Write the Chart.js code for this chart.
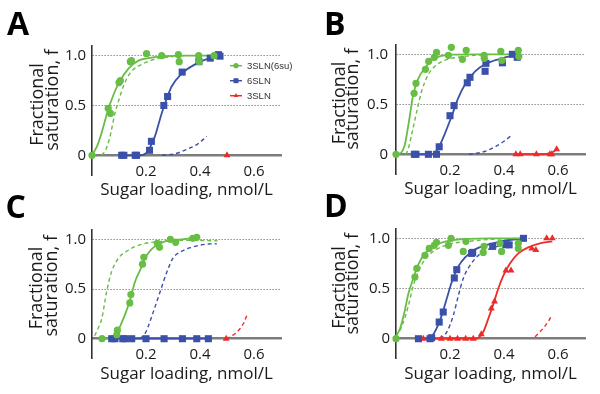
<!DOCTYPE html>
<html>
<head>
<meta charset="utf-8">
<script src="https://cdn.jsdelivr.net/npm/chart.js@4.4.1/dist/chart.umd.min.js"></script>
<style>
  html, body { margin: 0; padding: 0; background: #fff; }
  #wrap { position: relative; width: 600px; height: 394px; overflow: hidden; }
  canvas { position: absolute; }
</style>
</head>
<body>
<div id="wrap">
  <canvas id="chartA" width="300" height="205" style="left:0;top:0"></canvas>
  <canvas id="chartB" width="300" height="205" style="left:300px;top:0"></canvas>
  <canvas id="chartC" width="300" height="210" style="left:0;top:184px"></canvas>
  <canvas id="chartD" width="300" height="210" style="left:300px;top:184px"></canvas>
</div>
<script>
// ---- labels / ticks ----
const seriesNames = ['3SLN(6su)', '6SLN', '3SLN'];
const panelLetters = ['A', 'B', 'C', 'D'];
const xTitle = 'Sugar loading, nmol/L';
const yTitleLines = ['Fractional', 'saturation, f'];
const xTicks = [0.2, 0.4, 0.6];
const xTickLabels = ['0.2', '0.4', '0.6'];
const yTicks = [0, 0.5, 1.0];
const yTickLabels = ['0', '0.5', '1.0'];

// ---- panel A: [x, y] ----
const aGreenPts = [[0,0],[0.06,0.47],[0.068,0.42],[0.1,0.73],[0.105,0.75],[0.142,0.94],[0.146,0.95],[0.202,1.02],[0.258,1.0],[0.32,1.01],[0.323,0.94],[0.395,1.0],[0.397,0.94],[0.452,1.0]];
const aGreenFit = [[0,0],[0.02,0.1],[0.036,0.23],[0.06,0.46],[0.08,0.61],[0.1,0.73],[0.135,0.87],[0.172,0.95],[0.22,0.98],[0.28,0.995],[0.35,1.0],[0.455,1.0]];
const aGreenRef = [[0.036,0],[0.05,0.05],[0.065,0.17],[0.085,0.42],[0.1,0.56],[0.116,0.69],[0.135,0.8],[0.153,0.86],[0.19,0.92],[0.24,0.97],[0.3,0.99]];
const aBluePts = [[0.11,0],[0.118,0],[0.16,0],[0.165,0],[0.213,0.05],[0.22,0.14],[0.266,0.5],[0.28,0.59],[0.334,0.835],[0.396,0.94],[0.438,0.975],[0.468,1.01],[0.474,0.995]];
const aBlueFit = [[0.105,0],[0.18,0],[0.2,0.02],[0.215,0.08],[0.233,0.19],[0.258,0.42],[0.277,0.57],[0.295,0.69],[0.332,0.82],[0.38,0.91],[0.43,0.97],[0.474,0.995]];
const aBlueRef = [[0.26,0],[0.3,0.01],[0.33,0.035],[0.36,0.07],[0.39,0.11],[0.425,0.19]];
const aRedPts = [[0.5,0]];

// ---- panel B ----
const bGreenPts = [[0,0],[0.067,0.61],[0.074,0.71],[0.109,0.85],[0.121,0.93],[0.142,0.97],[0.15,1.02],[0.194,0.99],[0.205,1.07],[0.246,0.95],[0.26,1.04],[0.326,0.99],[0.327,0.96],[0.388,1.03],[0.392,0.94],[0.453,1.04],[0.455,0.98]];
const bGreenFit = [[0,0],[0.02,0.02],[0.033,0.1],[0.045,0.28],[0.052,0.4],[0.064,0.6],[0.083,0.76],[0.107,0.86],[0.132,0.94],[0.169,0.985],[0.206,0.997],[0.3,1.0],[0.455,1.0]];
const bGreenRef = [[0.036,0],[0.045,0.05],[0.058,0.2],[0.077,0.43],[0.095,0.63],[0.12,0.8],[0.144,0.88],[0.18,0.94],[0.23,0.97],[0.29,0.99],[0.35,1.0]];
const bBluePts = [[0.068,0],[0.074,0],[0.12,0],[0.15,0],[0.16,0.075],[0.2,0.386],[0.215,0.487],[0.264,0.715],[0.274,0.77],[0.33,0.83],[0.333,0.91],[0.394,0.915],[0.431,1.0],[0.449,0.97]];
const bBlueFit = [[0.068,0],[0.13,0],[0.145,0.02],[0.157,0.063],[0.18,0.2],[0.206,0.38],[0.23,0.56],[0.256,0.7],[0.293,0.83],[0.33,0.9],[0.38,0.95],[0.43,0.985],[0.45,0.99]];
const bBlueRef = [[0.27,0],[0.3,0.01],[0.34,0.04],[0.37,0.08],[0.4,0.13],[0.428,0.19]];
const bRedPts = [[0.444,0],[0.46,0],[0.52,0],[0.57,0],[0.577,0],[0.595,0.05]];
const bRedFit = [[0.444,0],[0.53,0],[0.56,0.005],[0.58,0.02],[0.595,0.05]];

// ---- panel C ----
const cGreenPts = [[0.037,0],[0.092,0.04],[0.094,0.086],[0.14,0.36],[0.144,0.445],[0.187,0.75],[0.192,0.82],[0.242,0.96],[0.25,0.92],[0.29,1.0],[0.31,0.97],[0.373,1.01],[0.388,1.02]];
const cGreenFit = [[0.037,0],[0.09,0],[0.098,0.08],[0.122,0.24],[0.141,0.39],[0.159,0.57],[0.178,0.69],[0.196,0.81],[0.22,0.9],[0.246,0.95],[0.283,0.99],[0.332,1.0],[0.388,1.02]];
const cGreenRef = [[0.01,0.03],[0.022,0.1],[0.036,0.2],[0.054,0.47],[0.072,0.67],[0.098,0.81],[0.134,0.89],[0.184,0.95],[0.258,0.98],[0.344,0.99],[0.465,0.985]];
const cBluePts = [[0.073,0],[0.085,0],[0.114,0],[0.122,0],[0.147,0],[0.2,0],[0.267,0],[0.335,0],[0.388,0],[0.431,0]];
const cBlueFit = [[0.073,0],[0.431,0]];
const cBlueRef = [[0.178,0],[0.19,0.03],[0.2,0.07],[0.227,0.27],[0.252,0.47],[0.277,0.67],[0.3,0.81],[0.332,0.88],[0.37,0.92],[0.418,0.95],[0.462,0.955]];
const cRedPts = [[0.497,0]];
const cRedRef = [[0.497,0],[0.523,0.037],[0.548,0.1],[0.564,0.17],[0.574,0.24]];

// ---- panel D ----
const dGreenPts = [[0,0],[0.07,0.615],[0.077,0.7],[0.107,0.83],[0.123,0.9],[0.142,0.93],[0.15,0.96],[0.194,0.93],[0.204,1.0],[0.249,0.87],[0.259,0.97],[0.323,0.86],[0.326,0.92],[0.385,0.95],[0.391,0.87],[0.453,0.95],[0.453,0.9]];
const dGreenFit = [[0,0.03],[0.015,0.1],[0.03,0.25],[0.046,0.45],[0.064,0.6],[0.083,0.74],[0.107,0.85],[0.144,0.93],[0.194,0.975],[0.268,0.995],[0.35,1.0],[0.47,1.0]];
const dGreenRef = [[0,0.02],[0.021,0.12],[0.046,0.33],[0.064,0.53],[0.083,0.67],[0.107,0.79],[0.144,0.88],[0.194,0.94],[0.268,0.97],[0.354,0.99],[0.465,1.0]];
const dBluePts = [[0.083,0],[0.126,0],[0.132,0.01],[0.16,0.166],[0.175,0.266],[0.216,0.605],[0.225,0.688],[0.28,0.85],[0.284,0.86],[0.358,0.92],[0.407,0.937],[0.419,0.935],[0.472,1.0]];
const dBlueFit = [[0.083,0],[0.12,0],[0.132,0.02],[0.15,0.1],[0.169,0.23],[0.188,0.4],[0.206,0.56],[0.231,0.72],[0.256,0.81],[0.293,0.89],[0.33,0.93],[0.39,0.97],[0.472,1.0]];
const dBlueRef = [[0.163,0],[0.188,0.066],[0.212,0.23],[0.231,0.43],[0.249,0.6],[0.274,0.73],[0.305,0.83],[0.342,0.89],[0.391,0.93],[0.455,0.96]];
const dRedPts = [[0.101,0],[0.132,0],[0.168,0],[0.2,0],[0.228,0],[0.258,0],[0.286,0],[0.316,0.044],[0.353,0.3],[0.365,0.37],[0.407,0.68],[0.426,0.68],[0.503,0.9],[0.518,0.885],[0.558,1.0],[0.579,1.0]];
const dRedFit = [[0.101,0],[0.29,0],[0.305,0.01],[0.323,0.066],[0.342,0.2],[0.36,0.34],[0.379,0.5],[0.398,0.63],[0.422,0.75],[0.453,0.85],[0.49,0.91],[0.54,0.955],[0.579,0.97]];
const dRedRef = [[0.515,0.02],[0.53,0.06],[0.55,0.12],[0.566,0.18],[0.578,0.24]];

// ---- styling ----
const FONT = '"Open Sans", "DejaVu Sans", sans-serif';
const GREEN = '#68bd45';
const BLUE = '#3b50a8';
const RED = '#ee2b2b';
const seriesColors = [GREEN, BLUE, RED];
const seriesShapes = ['circle', 'rect', 'triangle'];
const shapeRadius = { circle: 3.6, rect: 5, triangle: 4 };

const toXY = arr => arr.map(p => ({ x: p[0], y: p[1] }));

function pointSet(arr, k) {
  const shape = seriesShapes[k];
  return {
    data: toXY(arr), showLine: false, clip: false,
    pointStyle: shape, pointRadius: shapeRadius[shape],
    pointBackgroundColor: seriesColors[k], pointBorderColor: seriesColors[k], pointBorderWidth: 0
  };
}
function lineSet(arr, k, dashed) {
  return {
    data: toXY(arr), showLine: true, clip: false, pointRadius: 0,
    borderColor: seriesColors[k], borderWidth: dashed ? 1.4 : 1.8,
    borderDash: dashed ? [4, 3] : [], cubicInterpolationMode: 'monotone'
  };
}

// letters, y title (two lines, centred separately) and the legend of panel A
const panelText = {
  id: 'panelText',
  afterDraw(chart, args, o) {
    const ctx = chart.ctx;
    ctx.save();
    ctx.fillStyle = '#000';
    ctx.font = 'bold 32px ' + FONT;
    ctx.textAlign = 'left';
    ctx.textBaseline = 'alphabetic';
    ctx.fillText(o.letter, o.letterX, o.letterY);
    ctx.fillStyle = '#1a1a1a';
    ctx.font = '18px ' + FONT;
    ctx.textAlign = 'center';
    ctx.textBaseline = 'middle';
    yTitleLines.forEach((line, i) => {
      ctx.save();
      ctx.translate(o.titleX[i], o.titleY[i]);
      ctx.rotate(-Math.PI / 2);
      ctx.fillText(line, 0, 0);
      ctx.restore();
    });
    if (o.legend) {
      seriesNames.forEach((name, i) => {
        const y = o.legend.y + i * o.legend.dy;
        const x = o.legend.x;
        ctx.strokeStyle = seriesColors[i];
        ctx.fillStyle = seriesColors[i];
        ctx.lineWidth = 1.5;
        ctx.beginPath(); ctx.moveTo(x, y); ctx.lineTo(x + 12, y); ctx.stroke();
        Chart.helpers.drawPoint(ctx, { pointStyle: seriesShapes[i], radius: i === 1 ? 3.5 : 2.6, borderWidth: 0 }, x + 6, y);
        ctx.fillStyle = '#333';
        ctx.font = '9.5px "Liberation Sans", Arial, sans-serif';
        ctx.textAlign = 'left';
        ctx.fillText(name, x + 17, y + 0.5);
      });
    }
    ctx.restore();
  }
};

function makePanel(id, datasets, g) {
  return new Chart(document.getElementById(id), {
    type: 'scatter',
    data: { datasets },
    plugins: [panelText],
    options: {
      responsive: false, animation: false, devicePixelRatio: 1,
      layout: { padding: g.pad },
      plugins: {
        legend: { display: false }, tooltip: { enabled: false },
        panelText: g.text
      },
      scales: {
        x: {
          type: 'linear', min: 0, max: 0.7, position: { y: 0 },
          afterBuildTicks: s => { s.ticks = xTicks.map(v => ({ value: v })); },
          grid: { drawOnChartArea: false, drawTicks: false },
          border: { color: '#7d7d7d', width: 2.5 },
          ticks: { font: { family: FONT, size: 15 }, color: '#1a1a1a', padding: 7, maxRotation: 0, autoSkip: false,
                   callback: (v, i) => xTickLabels[i] },
          title: { display: true, text: xTitle, color: '#1a1a1a', font: { family: FONT, size: 17 }, padding: { top: -7, bottom: 0 } }
        },
        y: {
          type: 'linear', min: -0.2, max: 1.1,
          afterBuildTicks: s => { s.ticks = yTicks.map(v => ({ value: v })); },
          afterFit: s => { s.width = g.axisX; },
          grid: { drawTicks: false, lineWidth: 1, color: c => (c.tick && c.tick.value === 0) ? 'rgba(0,0,0,0)' : '#555' },
          border: { color: '#333', width: 1.6, dash: [1, 2] },
          ticks: { font: { family: FONT, size: 15 }, color: '#1a1a1a', padding: g.yPad,
                   callback: (v, i) => yTickLabels[i] }
        }
      }
    }
  });
}

makePanel('chartA', [
  pointSet(aGreenPts, 0), pointSet(aBluePts, 1), pointSet(aRedPts, 2),
  lineSet(aGreenFit, 0, false), lineSet(aBlueFit, 1, false),
  lineSet(aGreenRef, 0, true), lineSet(aBlueRef, 1, true)
], {
  pad: { left: 0, top: 45.7, right: 19, bottom: 29.8 }, axisX: 92, yPad: 6,
  text: { letter: panelLetters[0], letterX: 7, letterY: 35, titleX: [38, 53], titleY: [104.5, 100],
          legend: { x: 230, y: 65.7, dy: 15 } }
});

makePanel('chartB', [
  pointSet(bGreenPts, 0), pointSet(bBluePts, 1), pointSet(bRedPts, 2),
  lineSet(bGreenFit, 0, false), lineSet(bBlueFit, 1, false), lineSet(bRedFit, 2, false),
  lineSet(bGreenRef, 0, true), lineSet(bBlueRef, 1, true)
], {
  pad: { left: 0, top: 44.3, right: 15, bottom: 30.7 }, axisX: 96, yPad: 8,
  text: { letter: panelLetters[1], letterX: 24, letterY: 35, titleX: [40, 52.7], titleY: [103, 99] }
});

makePanel('chartC', [
  pointSet(cGreenPts, 0), pointSet(cBluePts, 1), pointSet(cRedPts, 2),
  lineSet(cGreenFit, 0, false), lineSet(cBlueFit, 1, false),
  lineSet(cGreenRef, 0, true), lineSet(cBlueRef, 1, true), lineSet(cRedRef, 2, true)
], {
  pad: { left: 0, top: 45.4, right: 19, bottom: 35.4 }, axisX: 92, yPad: 6,
  text: { letter: panelLetters[2], letterX: 5.5, letterY: 33.5, titleX: [37.3, 51.7], titleY: [104, 101.8] }
});

makePanel('chartD', [
  pointSet(dGreenPts, 0), pointSet(dBluePts, 1), pointSet(dRedPts, 2),
  lineSet(dGreenFit, 0, false), lineSet(dBlueFit, 1, false), lineSet(dRedFit, 2, false),
  lineSet(dGreenRef, 0, true), lineSet(dBlueRef, 1, true), lineSet(dRedRef, 2, true)
], {
  pad: { left: 0, top: 44.3, right: 15, bottom: 35.2 }, axisX: 96, yPad: 6,
  text: { letter: panelLetters[3], letterX: 24, letterY: 33, titleX: [40, 52.7], titleY: [103.5, 99.8] }
});
</script>
</body>
</html>
